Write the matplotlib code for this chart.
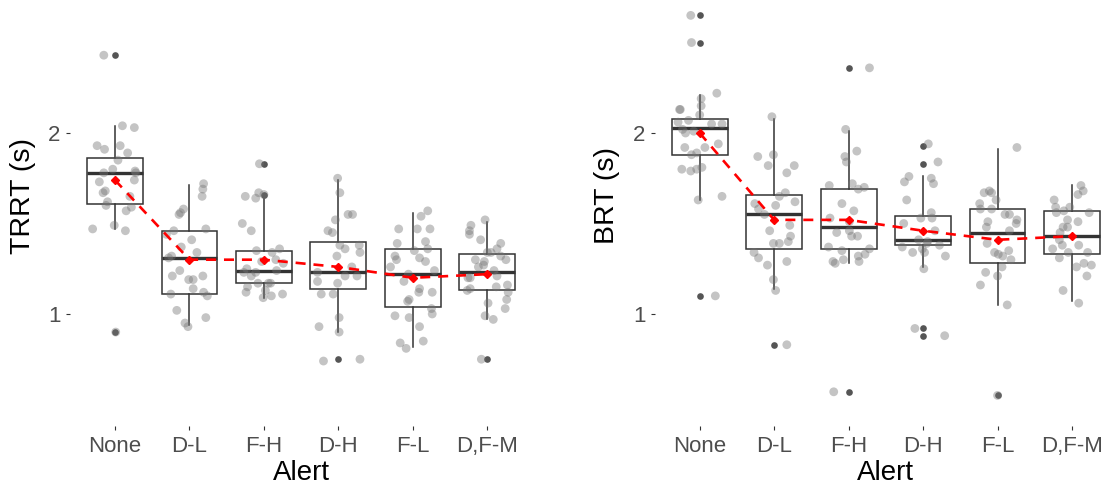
import matplotlib
matplotlib.use("Agg")
import matplotlib.pyplot as plt

plt.rcParams['font.family'] = ['Liberation Sans', 'DejaVu Sans']

alerts = ["None", "D-L", "F-H", "D-H", "F-L", "D,F-M"]

# ---- TRRT (left panel) ----
trrt_q1 = [1.61, 1.11, 1.17, 1.14, 1.04, 1.13]
trrt_med = [1.78, 1.31, 1.24, 1.23, 1.22, 1.23]
trrt_q3 = [1.86, 1.46, 1.35, 1.40, 1.36, 1.33]
trrt_whislo = [1.47, 0.94, 1.09, 0.90, 0.82, 0.97]
trrt_whishi = [2.04, 1.71, 1.65, 1.74, 1.56, 1.51]
trrt_mean = [1.74, 1.30, 1.30, 1.26, 1.20, 1.22]
trrt_outliers = [[2.43, 0.90], [], [1.83, 1.66], [0.75], [], [0.75]]

trrt_points = [
    [2.43, 2.04, 2.03, 1.93, 1.91, 1.93, 1.89, 1.85, 1.78, 1.80, 1.79, 1.78, 1.73,
     1.74, 1.68, 1.67, 1.62, 1.60, 1.65, 1.59, 1.57, 1.47, 1.49, 1.46, 0.90],
    [1.72, 1.69, 1.65, 1.58, 1.55, 1.56, 1.46, 1.44, 1.41, 1.47, 1.37, 1.34, 1.32,
     1.31, 1.24, 1.21, 1.19, 1.19, 1.21, 1.14, 1.11, 1.12, 1.10, 1.02, 0.98, 0.95, 0.93],
    [1.83, 1.67, 1.64, 1.65, 1.66, 1.50, 1.46, 1.35, 1.36, 1.34, 1.29, 1.28, 1.30,
     1.25, 1.23, 1.21, 1.23, 1.24, 1.17, 1.17, 1.17, 1.15, 1.12, 1.13, 1.10, 1.11, 1.09],
    [1.75, 1.67, 1.55, 1.55, 1.52, 1.46, 1.45, 1.38, 1.36, 1.38, 1.34, 1.32, 1.26,
     1.21, 1.21, 1.23, 1.18, 1.11, 1.11, 1.17, 0.93, 0.98, 0.90, 0.74, 0.75],
    [1.57, 1.54, 1.47, 1.47, 1.47, 1.39, 1.40, 1.36, 1.35, 1.32, 1.30, 1.31, 1.29,
     1.26, 1.24, 1.18, 1.22, 1.14, 1.12, 1.12, 1.07, 1.08, 1.03, 1.00, 0.99, 0.98,
     0.93, 0.84, 0.81, 0.85],
    [1.52, 1.49, 1.46, 1.44, 1.41, 1.39, 1.36, 1.34, 1.34, 1.32, 1.30, 1.30, 1.29,
     1.26, 1.24, 1.27, 1.21, 1.20, 1.20, 1.16, 1.15, 1.13, 1.14, 1.12, 1.08, 1.06,
     1.03, 0.99, 0.97, 0.75],
]
trrt_jitter = [
    [-0.15, 0.10, 0.26, -0.24, -0.14, 0.07, 0.17, 0.04, -0.15, -0.03, 0.27, 0.28, -0.21,
     0.26, -0.13, -0.16, -0.10, -0.12, 0.20, 0.22, 0.15, -0.30, -0.01, 0.14, 0.01],
    [0.19, 0.18, 0.17, -0.08, -0.14, -0.12, -0.21, -0.31, 0.03, 0.22, -0.11, 0.10, -0.24,
     -0.28, -0.13, -0.23, -0.01, 0.05, 0.18, 0.05, -0.25, 0.19, 0.24, -0.17, 0.22, -0.06, -0.02],
    [-0.06, -0.07, -0.11, -0.25, 0.00, -0.29, -0.17, -0.10, 0.21, 0.11, -0.03, 0.26, 0.16,
     -0.23, -0.27, -0.17, -0.11, 0.17, 0.06, 0.09, -0.08, -0.22, -0.24, 0.02, 0.10, 0.25, -0.01],
    [-0.01, 0.02, 0.13, 0.19, -0.04, -0.14, -0.08, 0.02, 0.09, 0.28, 0.29, -0.02, 0.18,
     0.09, 0.25, -0.28, -0.28, -0.23, -0.07, -0.01, -0.26, 0.01, 0.01, -0.20, 0.29],
    [0.20, 0.11, -0.19, 0.06, 0.23, -0.21, 0.17, 0.20, 0.02, -0.24, -0.22, 0.09, 0.17,
     -0.30, 0.29, -0.12, -0.06, 0.09, 0.08, 0.26, -0.07, -0.05, 0.25, 0.26, -0.24, -0.05,
     0.09, -0.17, -0.09, 0.14],
    [-0.03, -0.22, -0.24, -0.24, -0.09, 0.18, 0.13, 0.00, 0.05, 0.18, 0.25, -0.16, -0.04,
     -0.12, 0.09, -0.05, 0.13, -0.26, -0.23, 0.27, 0.12, -0.27, -0.23, 0.28, 0.26, 0.01,
     0.24, -0.03, 0.08, -0.08],
]

# ---- BRT (right panel) ----
brt_q1 = [1.88, 1.36, 1.36, 1.38, 1.28, 1.33]
brt_med = [2.03, 1.55, 1.48, 1.41, 1.45, 1.43]
brt_q3 = [2.08, 1.66, 1.69, 1.54, 1.58, 1.57]
brt_whislo = [1.63, 1.14, 1.28, 1.26, 1.05, 1.07]
brt_whishi = [2.21, 2.08, 2.01, 1.76, 1.91, 1.71]
brt_mean = [2.00, 1.52, 1.52, 1.46, 1.41, 1.43]
brt_outliers = [[2.65, 2.50, 1.10], [0.83], [2.36, 0.57], [1.93, 1.83, 0.92, 0.88], [0.55], []]

brt_points = [
    [2.65, 2.50, 2.22, 2.19, 2.15, 2.13, 2.13, 2.10, 2.06, 2.07, 2.05, 2.05, 2.02, 2.00,
     2.01, 1.92, 1.92, 1.94, 1.88, 1.89, 1.80, 1.79, 1.80, 1.81, 1.63, 1.65, 1.10],
    [2.09, 1.87, 1.88, 1.82, 1.78, 1.82, 1.61, 1.58, 1.60, 1.55, 1.65, 1.67, 1.49, 1.46,
     1.39, 1.39, 1.40, 1.43, 1.34, 1.31, 1.27, 1.29, 1.19, 1.13, 0.83, 1.62],
    [2.36, 2.02, 1.90, 1.87, 1.84, 1.71, 1.72, 1.70, 1.69, 1.61, 1.57, 1.53, 1.51, 1.45,
     1.46, 1.43, 1.43, 1.37, 1.35, 1.36, 1.33, 1.29, 1.28, 1.30, 1.32, 1.29, 0.57],
    [1.94, 1.76, 1.73, 1.75, 1.63, 1.50, 1.53, 1.37, 1.34, 1.34, 1.25, 0.92, 1.84, 1.72,
     1.56, 1.53, 1.46, 1.38, 1.32, 0.88, 1.41, 1.39, 1.40, 1.36],
    [1.92, 1.67, 1.68, 1.67, 1.63, 1.61, 1.58, 1.58, 1.55, 1.55, 1.52, 1.50, 1.51, 1.48,
     1.46, 1.39, 1.34, 1.35, 1.33, 1.32, 1.30, 1.26, 1.23, 1.21, 1.16, 1.05, 0.55],
    [1.63, 1.59, 1.56, 1.57, 1.59, 1.66, 1.71, 1.52, 1.51, 1.48, 1.48, 1.45, 1.41, 1.38,
     1.36, 1.38, 1.31, 1.34, 1.26, 1.13, 1.06, 1.68, 1.56, 1.34, 1.28, 1.27, 1.21],
]
brt_jitter = [
    [-0.12, -0.11, 0.23, 0.02, 0.02, -0.27, -0.26, 0.00, -0.29, -0.15, 0.16, 0.30, -0.23,
     -0.19, -0.08, -0.20, 0.07, 0.25, -0.11, -0.04, -0.24, -0.12, -0.04, 0.03, -0.02, 0.30, 0.21],
    [-0.03, -0.22, -0.01, -0.08, 0.17, 0.27, -0.26, -0.21, 0.02, -0.13, 0.07, 0.15, 0.21,
     -0.06, -0.01, 0.07, 0.19, 0.22, -0.27, -0.21, -0.09, 0.17, -0.01, 0.02, 0.17, 0.28],
    [0.28, -0.04, 0.11, -0.05, -0.03, -0.26, 0.05, 0.21, 0.13, -0.09, 0.07, -0.25, 0.01,
     -0.16, 0.01, 0.04, 0.12, -0.27, -0.09, 0.28, 0.22, -0.21, -0.18, -0.07, 0.13, 0.14, -0.20],
    [0.07, -0.19, -0.25, 0.11, -0.22, -0.26, -0.03, -0.28, -0.14, 0.02, 0.01, -0.11, 0.20,
     0.14, 0.11, 0.12, 0.16, 0.22, 0.30, 0.29, -0.06, 0.05, 0.06, -0.01],
    [0.26, -0.18, -0.11, -0.08, -0.02, -0.24, -0.23, -0.08, 0.10, 0.16, 0.26, 0.25, -0.13,
     -0.15, 0.16, -0.14, -0.04, 0.15, 0.01, 0.07, 0.18, 0.06, -0.16, 0.00, -0.23, 0.13, 0.00],
    [-0.24, -0.22, -0.21, -0.11, -0.03, 0.08, 0.12, -0.06, 0.08, -0.06, -0.12, -0.16, -0.17,
     -0.13, -0.26, 0.09, -0.17, -0.05, 0.06, -0.12, 0.09, 0.15, 0.23, 0.21, 0.16, 0.26, 0.20],
]

BOX_COLOR = "#333333"


def draw_panel(ax, q1, med, q3, lo, hi, means, outliers, points, jitter, ylabel):
    pos = list(range(len(alerts)))
    stats = [dict(q1=a, med=m, q3=b, whislo=l, whishi=h, fliers=f)
             for a, m, b, l, h, f in zip(q1, med, q3, lo, hi, outliers)]
    ax.bxp(stats, positions=pos, widths=0.75, showcaps=False, patch_artist=True,
           boxprops=dict(facecolor="white", edgecolor=BOX_COLOR, linewidth=1.1),
           whiskerprops=dict(color=BOX_COLOR, linewidth=1.1),
           medianprops=dict(color=BOX_COLOR, linewidth=2.4),
           flierprops=dict(marker="o", markerfacecolor="#555555",
                           markeredgecolor="none", markersize=4.8))

    # jittered raw observations
    for i, (vals, jit) in enumerate(zip(points, jitter)):
        ax.scatter([i + j for j in jit], vals, s=40, color="#737373",
                   alpha=0.42, edgecolors="none", zorder=3)

    # mean trend
    ax.plot(pos, means, color="red", linestyle=(0, (3.8, 3.0)), linewidth=1.9,
            marker="D", markersize=3.8, zorder=4)

    ax.set_xlim(-0.6, 5.6)
    ax.set_ylim(0.381, 2.735)
    ax.set_xticks(pos, alerts)
    ax.set_yticks([1, 2], ["1", "2"])
    for s in ax.spines.values():
        s.set_visible(False)
    ax.tick_params(length=3, width=0.8, color=BOX_COLOR, labelsize=16,
                   labelcolor="#4D4D4D", pad=4)
    ax.set_xlabel("Alert", fontsize=20, labelpad=2)
    ax.set_ylabel(ylabel, fontsize=20.5, labelpad=9)
    ax.yaxis.label.set_y(0.54)


fig = plt.figure(figsize=(11.07, 4.87), dpi=100)
ax1 = fig.add_axes([70.3 / 1107, 61 / 487, 461.7 / 1107, 426 / 487])
ax2 = fig.add_axes([655 / 1107, 61 / 487, 461.7 / 1107, 426 / 487])

draw_panel(ax1, trrt_q1, trrt_med, trrt_q3, trrt_whislo, trrt_whishi, trrt_mean,
           trrt_outliers, trrt_points, trrt_jitter, "TRRT (s)")
draw_panel(ax2, brt_q1, brt_med, brt_q3, brt_whislo, brt_whishi, brt_mean,
           brt_outliers, brt_points, brt_jitter, "BRT (s)")

fig.savefig("out.png", dpi=100)
